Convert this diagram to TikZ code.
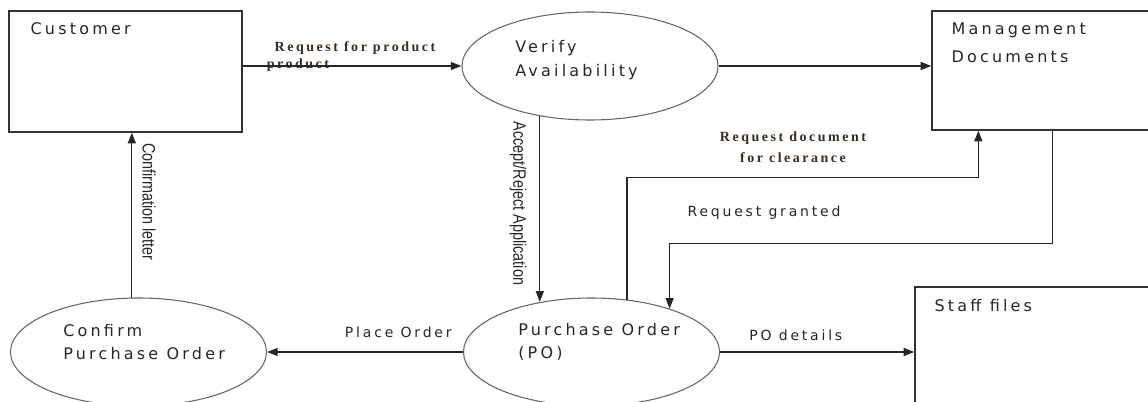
\documentclass[tikz,border=0pt]{standalone}
\usepackage{fontspec}
\setmainfont{DejaVu Sans}
\newfontfamily\boxfont{DejaVu Sans}[LetterSpace=20]
\newfontfamily\notefont{Liberation Serif}[LetterSpace=18]
\newfontfamily\sidefont{Liberation Sans}[FakeStretch=0.8]
\usetikzlibrary{shapes.geometric,arrows.meta,positioning,calc}
\definecolor{notebrown}{HTML}{3B2A1E}

\begin{document}
\begin{tikzpicture}[x=0.75pt, y=-0.75pt,
 store/.style={draw=black!80, line width=1pt, inner sep=0pt},
 proc/.style={draw=black!60, ellipse, line width=0.8pt, inner sep=0pt, minimum width=192pt, minimum height=81pt},
 txt/.style={font=\boxfont\fontsize{12}{18}\selectfont, align=left, inner sep=0pt, text=black!85},
 lab/.style={font=\boxfont\fontsize{10.5}{13}\selectfont, text=black!85},
 note/.style={font=\notefont\bfseries\fontsize{10.5}{15.5}\selectfont, align=center, text=notebrown},
 side/.style={font=\sidefont\fontsize{13.5}{16}\selectfont, rotate=-90, inner sep=0pt, text=black!85},
 flow/.style={draw=black!85, line width=1pt, -{Triangle[length=8pt,width=6pt]}}]
\useasboundingbox (0,0) rectangle (1148,402);
\clip (0,0) rectangle (1148,402);

\node[store, minimum width=174.75pt, minimum height=90.75pt] (cust) at (125.5,71.5) {};
\node[txt, below right=9pt and 16.5pt of cust.north west] (custtxt) {Customer};

\node[proc] (verify) at (590,66) {};
\node[txt, anchor=north west] (verifytxt) at (515,40) {Verify\\Availability};

\node[store, minimum width=238.5pt, minimum height=89.25pt] (mgmt) at (1091,70.5) {};
\node[txt, below right=9pt and 15pt of mgmt.north west] (mgmttxt) {Management\\[3pt]Documents};

\node[proc] (po) at (591.5,352) {};
\node[txt, anchor=north west] (potxt) at (518,323) {Purchase Order\\[-1pt](PO)};

\node[proc] (confirm) at (138.5,352) {};
\node[txt, anchor=north west] (confirmtxt) at (63,324) {Confirm\\[-1pt]Purchase Order};

\node[store, minimum width=251.25pt, minimum height=122.25pt] (staff) at (1082.5,368.5) {};
\node[txt, below right=9.75pt and 15pt of staff.north west] (stafftxt) {Staff files};

\node[note] (prodtxt) at (298,65) {product};
\draw[flow] (cust.east |- verify.west) -- (verify.west);
\node[note] (reqtxt) at (355,48) {Request for product};

\draw[flow] (verify.east) -- (mgmt.west |- verify.east);

\draw[flow] (verify.225) -- (verify.225 |- po.135)
  node[side, pos=0.47, anchor=north, outer sep=10pt] (accepttxt) {Accept/Reject Application};

\draw[flow] (po.56) -- ++(0,-122) -| ($(mgmt.south west)+(47,0)$);
\node[note] (doctxt) at (793,147) {Request document\\for clearance};

\draw[flow] ($(mgmt.south west)+(121,0)$) -- ++(0,113) -| (po.29);
\node[lab] (granttxt) at (764,213) {Request granted};

\draw[flow] (po.west) -- (confirm.east) node[lab, pos=0.33, above=7pt] (placetxt) {Place Order};
\draw[flow] (po.east) -- (staff.west |- po.east) node[lab, pos=0.39, above=5pt] (podtxt) {PO details};

\draw[flow] (confirm.97) -- (confirm.97 |- cust.south)
  node[side, pos=0.58, anchor=south, outer sep=8pt] (lettertxt) {Confirmation letter};
\end{tikzpicture}
\end{document}
